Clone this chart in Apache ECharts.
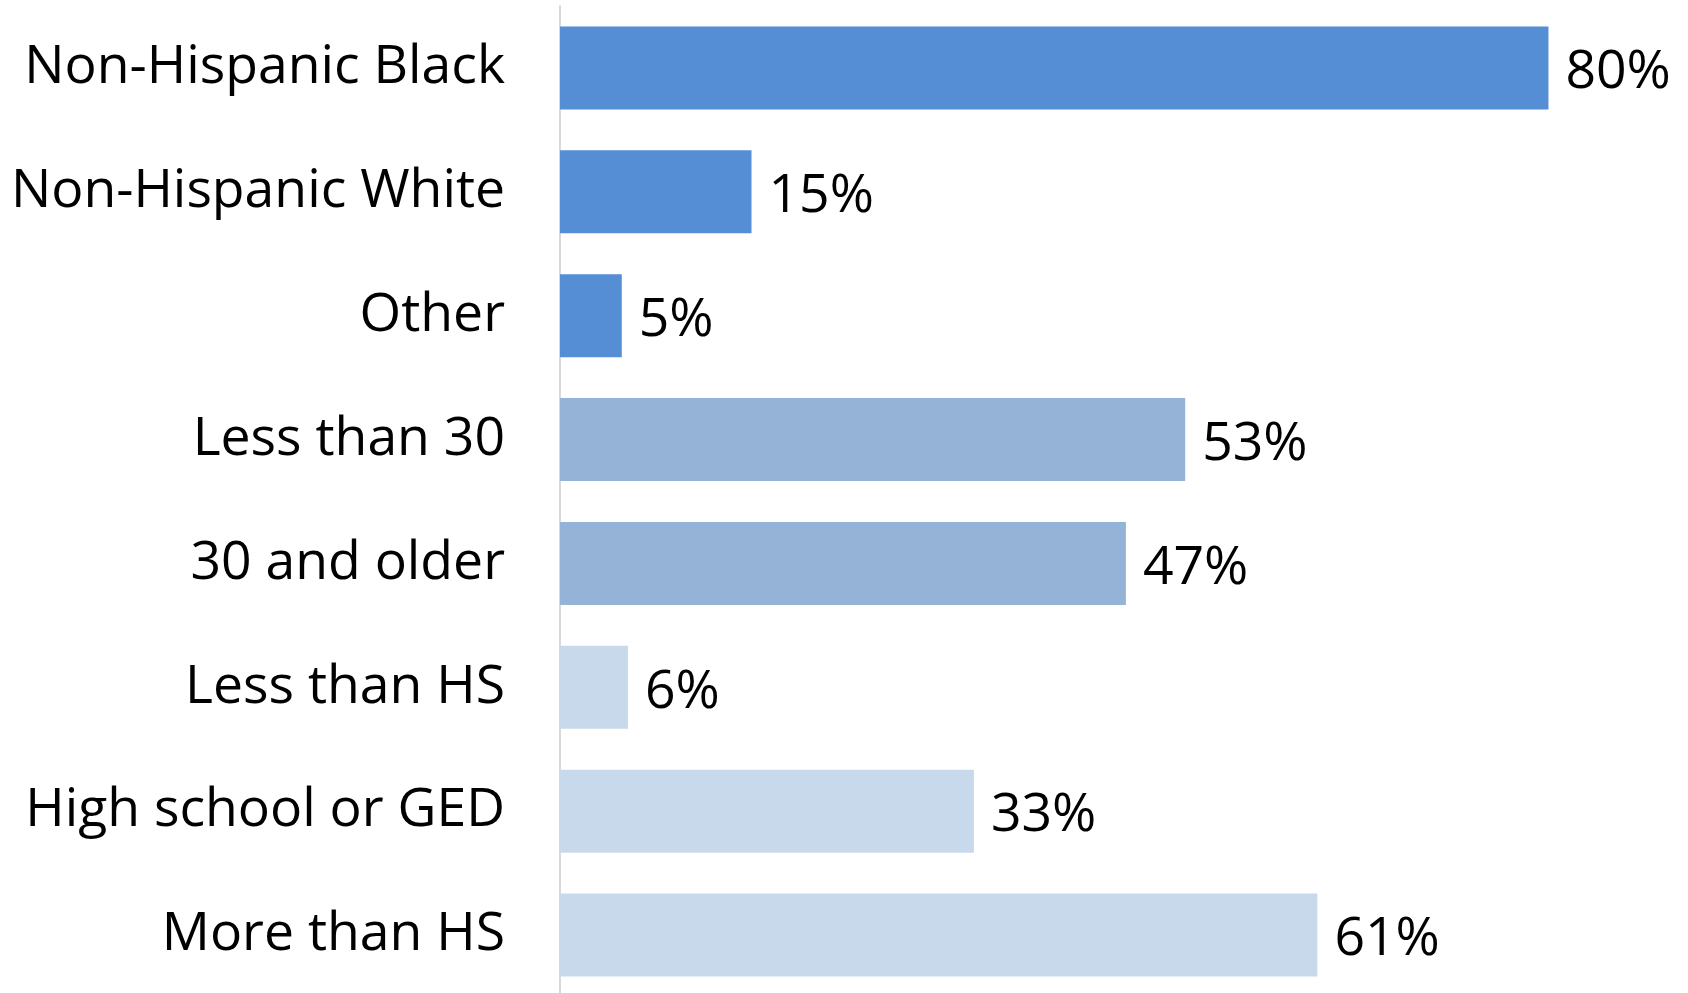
<!DOCTYPE html>
<html>
<head>
<meta charset="utf-8">
<script src="https://cdn.jsdelivr.net/npm/echarts@6/dist/echarts.min.js"></script>
<style>
html,body{margin:0;padding:0;background:#fff;}
#chart{width:1688px;height:993px;}
</style>
</head>
<body>
<div id="chart"></div>
<script>
var categories = ["Non-Hispanic Black","Non-Hispanic White","Other","Less than 30","30 and older","Less than HS","High school or GED","More than HS"];
var barValues = [80, 15.5, 5.0, 50.6, 45.8, 5.5, 33.5, 61.3];
var valueLabels = ["80%","15%","5%","53%","47%","6%","33%","61%"];
var groups = ["race","race","race","age","age","edu","edu","edu"];
var groupColors = {race:"#558ED5", age:"#95B3D7", edu:"#C9D9EC"};

var chart = echarts.init(document.getElementById('chart'), null, {renderer:'canvas'});
var font = '"Open Sans", "Noto Sans", sans-serif';
chart.setOption({
  animation:false,
  backgroundColor:'#fff',
  grid:{left:560, top:6, height:991, width:1112, containLabel:false, outerBoundsMode:'none'},
  xAxis:{type:'value', min:0, max:90, show:false},
  yAxis:{type:'category', data:categories, inverse:true,
    axisLine:{show:true, lineStyle:{color:'#d9d9d9', width:2}},
    axisTick:{show:false},
    axisLabel:{color:'#000', fontFamily:font, fontSize:53.5, margin:55}
  },
  series:[{
    type:'bar',
    barCategoryGap:'33%',
    data:barValues.map(function(v,i){return {value:v, itemStyle:{color:groupColors[groups[i]]}};}),
    label:{show:true, position:'right', distance:17, offset:[0,5], color:'#000', fontFamily:font, fontSize:53.5,
      formatter:function(p){return valueLabels[p.dataIndex];}}
  }]
});
</script>
</body>
</html>
